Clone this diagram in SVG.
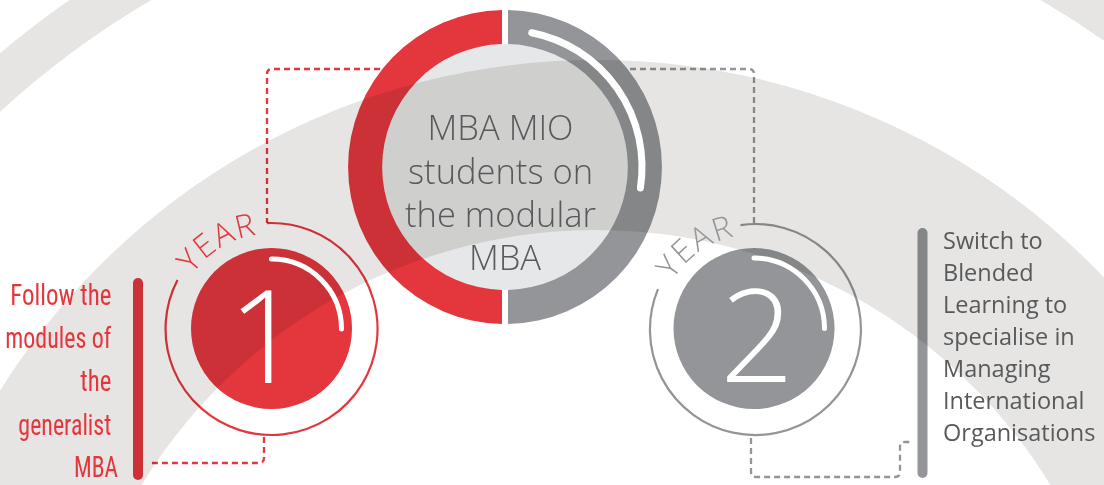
<svg xmlns="http://www.w3.org/2000/svg" width="1104" height="485" viewBox="0 0 1104 485">
<style>
.mul{mix-blend-mode:multiply}
.red{fill:#e3363d}
.gry{fill:#939598}
.band{fill:none;stroke:#e6e5e3}
.dashR{fill:none;stroke:#e3363d;stroke-width:2.3;stroke-dasharray:6 4;mix-blend-mode:multiply}
.dashG{fill:none;stroke:#939598;stroke-width:2.3;stroke-dasharray:6 4;mix-blend-mode:multiply}
.hl{fill:none;stroke:#fff;stroke-linecap:round}
.lt{font-family:"Open Sans","Liberation Sans",sans-serif;font-weight:300}
.cond{font-family:"Liberation Sans Narrow","Roboto Condensed","Liberation Sans",sans-serif;font-size:29px;fill:#e3363d;text-anchor:end}
.rt{font-family:"Open Sans","Liberation Sans",sans-serif;font-size:23.5px;fill:#58595b}
</style>
<defs>
<path id="arc1" d="M185.5,286 A95,95 0 0 1 271.5,234"/>
<path id="arc2" d="M664.5,298.5 A95,95 0 0 1 755.5,234.5"/>
</defs>
<g id="background">
<circle class="band" cx="596" cy="762" r="904" stroke-width="44"/>
<circle class="band" cx="596" cy="762" r="617" stroke-width="170"/>
</g>
<g id="connectors">
<path class="dashR" d="M380,69 H272 Q267,69 267,74 V223"/>
<path class="dashR" d="M264,437 V458 Q264,463 259,463 H148"/>
<path class="dashG" d="M630,69 H749 Q754,69 754,74 V224"/>
<path class="dashG" d="M751,438 V472 Q751,477 756,477 H895 Q900,477 900,472 V447 Q900,442 905,442 H912"/>
</g>
<g id="center">
<path class="red mul" d="M502,10.03 A157,157 0 0 0 502,323.97 L502,289.96 A123,123 0 0 1 502,44.04 Z"/>
<path class="gry mul" d="M508,10.03 A157,157 0 0 1 508,323.97 L508,289.96 A123,123 0 0 0 508,44.04 Z"/>
<circle class="mul" cx="505" cy="167" r="123" fill="#e6e7e8"/>
<path class="hl" stroke-width="7" d="M531.8,32.7 A137,137 0 0 1 640.4,188"/>
<text class="lt" font-size="34.5" fill="#58595b" text-anchor="middle">
<tspan x="505" y="140">MBA MIO</tspan>
<tspan x="505" y="184">students on</tspan>
<tspan x="505" y="227">the modular</tspan>
<tspan x="505" y="270">MBA</tspan>
</text>
</g>
<g id="year1">
<path class="mul" fill="none" stroke="#e3363d" stroke-width="2.2" d="M267.1,223.1 A106,106 0 1 1 177.5,280.1"/>
<circle class="red mul" cx="271.5" cy="328.5" r="80.5"/>
<path class="hl" stroke-width="5" d="M271.5,259 A70,70 0 0 1 341.5,329"/>
<text class="lt" font-size="130" fill="#fff" text-anchor="middle" x="265" y="383">1</text>
<text class="lt" font-size="32" fill="#e3363d" letter-spacing="1.5"><textPath href="#arc1" startOffset="50%" text-anchor="middle">YEAR</textPath></text>
</g>
<g id="year2">
<path class="mul" fill="none" stroke="#939598" stroke-width="2.2" d="M740.5,225.1 A105.5,105.5 0 1 1 658,289.1"/>
<circle class="gry mul" cx="754" cy="328.5" r="80.5"/>
<path class="hl" stroke-width="5" d="M754,258 A70.5,70.5 0 0 1 824.5,328.5"/>
<text class="lt" font-size="130" fill="#fff" text-anchor="middle" x="757" y="382">2</text>
<text class="lt" font-size="32" fill="#939598" letter-spacing="1.5"><textPath href="#arc2" startOffset="50%" text-anchor="middle">YEAR</textPath></text>
</g>
<g id="left-note">
<line class="mul" x1="138" y1="283" x2="138" y2="475" stroke="#e3363d" stroke-width="10" stroke-linecap="round"/>
<text class="cond">
<tspan x="118" y="305" textLength="101" lengthAdjust="spacingAndGlyphs">Follow the</tspan>
<tspan x="118" y="348" textLength="106" lengthAdjust="spacingAndGlyphs">modules of</tspan>
<tspan x="118" y="391" textLength="31" lengthAdjust="spacingAndGlyphs">the</tspan>
<tspan x="118" y="435" textLength="93" lengthAdjust="spacingAndGlyphs">generalist</tspan>
<tspan x="118" y="477" textLength="44" lengthAdjust="spacingAndGlyphs">MBA</tspan>
</text>
</g>
<g id="right-note">
<line class="mul" x1="922.5" y1="233" x2="922.5" y2="473" stroke="#939598" stroke-width="10" stroke-linecap="round"/>
<text class="rt">
<tspan x="943" y="249">Switch to</tspan>
<tspan x="943" y="281">Blended</tspan>
<tspan x="943" y="313">Learning to</tspan>
<tspan x="943" y="345">specialise in</tspan>
<tspan x="943" y="377">Managing</tspan>
<tspan x="943" y="409">International</tspan>
<tspan x="943" y="441">Organisations</tspan>
</text>
</g>
</svg>
